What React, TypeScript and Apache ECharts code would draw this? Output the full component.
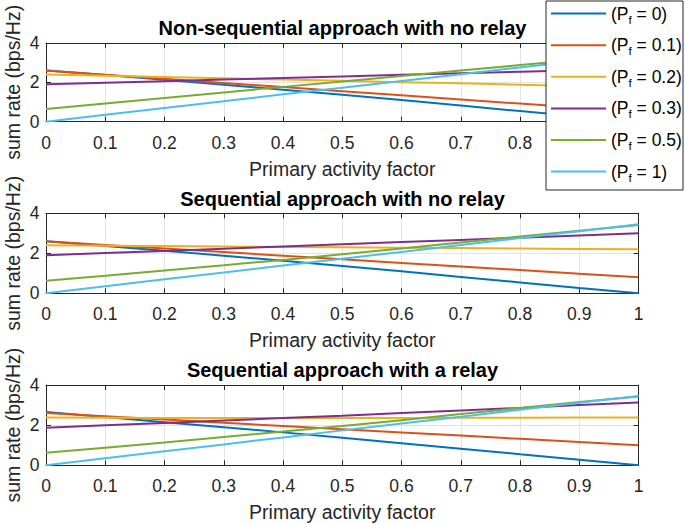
import React, { useEffect, useRef } from "react";
import * as echarts from "echarts";

const xValues = [0, 0.1, 0.2, 0.3, 0.4, 0.5, 0.6, 0.7, 0.8, 0.9, 1];
const seriesNames = ["(Pf = 0)", "(Pf = 0.1)", "(Pf = 0.2)", "(Pf = 0.3)", "(Pf = 0.5)", "(Pf = 1)"];
const panelTitles = [
  "Non-sequential approach with no relay",
  "Sequential approach with no relay",
  "Sequential approach with a relay",
];
const xAxisTitle = "Primary activity factor";
const yAxisTitle = "sum rate (bps/Hz)";

// Panel 1: non-sequential, no relay
const nsPf0 = [2.6, 2.37, 2.13, 1.88, 1.63, 1.37, 1.1, 0.82, 0.54, 0.26, 0.0];
const nsPf01 = [2.6, 2.39, 2.18, 1.97, 1.76, 1.55, 1.34, 1.13, 0.92, 0.71, 0.5];
const nsPf02 = [2.4, 2.34, 2.27, 2.21, 2.14, 2.08, 2.01, 1.95, 1.88, 1.82, 1.75];
const nsPf03 = [1.9, 1.98, 2.06, 2.14, 2.22, 2.3, 2.38, 2.46, 2.54, 2.62, 2.7];
const nsPf05 = [0.65, 0.93, 1.21, 1.49, 1.77, 2.04, 2.32, 2.6, 2.88, 3.15, 3.43];
const nsPf1 = [0, 0.35, 0.7, 1.04, 1.39, 1.73, 2.07, 2.41, 2.76, 3.1, 3.45];

// Panel 2: sequential, no relay
const sqPf0 = [2.6, 2.37, 2.13, 1.88, 1.63, 1.37, 1.1, 0.82, 0.54, 0.26, 0.0];
const sqPf01 = [2.6, 2.42, 2.24, 2.06, 1.88, 1.7, 1.52, 1.34, 1.16, 0.98, 0.8];
const sqPf02 = [2.4, 2.38, 2.36, 2.34, 2.32, 2.3, 2.28, 2.26, 2.24, 2.22, 2.2];
const sqPf03 = [1.9, 2.01, 2.12, 2.23, 2.34, 2.45, 2.56, 2.67, 2.78, 2.89, 3.0];
const sqPf05 = [0.63, 0.88, 1.14, 1.4, 1.67, 1.95, 2.24, 2.54, 2.84, 3.13, 3.42];
const sqPf1 = [0, 0.35, 0.7, 1.04, 1.39, 1.73, 2.07, 2.41, 2.76, 3.1, 3.45];

// Panel 3: sequential, with a relay
const rlPf0 = [2.65, 2.4, 2.15, 1.9, 1.64, 1.37, 1.1, 0.83, 0.55, 0.28, 0.0];
const rlPf01 = [2.6, 2.44, 2.28, 2.12, 1.96, 1.8, 1.64, 1.48, 1.32, 1.16, 1.0];
const rlPf02 = [2.38, 2.37, 2.36, 2.36, 2.36, 2.36, 2.36, 2.37, 2.37, 2.38, 2.38];
const rlPf03 = [1.87, 1.99, 2.11, 2.23, 2.35, 2.47, 2.6, 2.73, 2.86, 3.0, 3.13];
const rlPf05 = [0.62, 0.88, 1.14, 1.41, 1.68, 1.96, 2.25, 2.55, 2.86, 3.15, 3.43];
const rlPf1 = [0, 0.35, 0.7, 1.04, 1.39, 1.74, 2.08, 2.42, 2.77, 3.11, 3.45];

const panelData = [
  [nsPf0, nsPf01, nsPf02, nsPf03, nsPf05, nsPf1],
  [sqPf0, sqPf01, sqPf02, sqPf03, sqPf05, sqPf1],
  [rlPf0, rlPf01, rlPf02, rlPf03, rlPf05, rlPf1],
];

const colors = ["#0072BD", "#D95319", "#EDB120", "#7E2F8E", "#77AC30", "#4DBEEE"];
const FONT = "'Liberation Sans', Arial, Helvetica, sans-serif";
const AX = "#262626";
const GRIDC = "#e3e3e3";

const gridTops = [43, 213.3, 385];
const gridHeights = [78.7, 80, 80.3];

export default function App() {
  const ref = useRef<HTMLDivElement>(null);
  useEffect(() => {
    if (!ref.current) return;
    const chart = echarts.init(ref.current, undefined, { renderer: "svg" });

    const grids: any[] = [];
    const xAxes: any[] = [];
    const yAxes: any[] = [];
    const series: any[] = [];
    const titles: any[] = [];

    gridTops.forEach((top, p) => {
      grids.push({
        left: 46,
        width: 592.5,
        top,
        height: gridHeights[p],
        containLabel: false,
        outerBoundsMode: "none",
      });
      titles.push({
        text: panelTitles[p],
        left: "center",
        top: top - 24.8,
        padding: 0,
        textStyle: { fontFamily: FONT, fontSize: 20, fontWeight: "bold", color: "#000" },
      });
      const hideBehindLegend = p === 0;
      // bottom x
      xAxes.push({
        type: "value",
        gridIndex: p,
        position: "bottom",
        min: 0,
        max: 1,
        interval: 0.1,
        name: xAxisTitle,
        nameLocation: "middle",
        nameGap: 37,
        nameMoveOverlap: false,
        nameTextStyle: { fontFamily: FONT, fontSize: 19.5, color: AX },
        axisLine: { show: true, onZero: false, lineStyle: { color: AX, width: 1 } },
        axisTick: { show: true, inside: true, length: 5, lineStyle: { color: AX } },
        axisLabel: {
          show: true,
          margin: 12,
          fontFamily: FONT,
          fontSize: 17.5,
          color: AX,
          formatter: (v: number) => {
            if (hideBehindLegend && v > 0.85) return "";
            return v === 0 ? "0" : v === 1 ? "1" : v.toFixed(1);
          },
        },
        splitLine: { show: true, lineStyle: { color: GRIDC, width: 1 } },
      });
      // top x
      xAxes.push({
        type: "value",
        gridIndex: p,
        position: "top",
        min: 0,
        max: 1,
        interval: 0.1,
        axisLine: { show: true, onZero: false, lineStyle: { color: AX, width: 1 } },
        axisTick: { show: true, inside: true, length: 5, lineStyle: { color: AX } },
        axisLabel: { show: false },
        splitLine: { show: false },
      });
      // left y
      yAxes.push({
        type: "value",
        gridIndex: p,
        position: "left",
        min: 0,
        max: 4,
        interval: 2,
        name: yAxisTitle,
        nameLocation: "middle",
        nameGap: 23,
        nameMoveOverlap: false,
        nameTextStyle: { fontFamily: FONT, fontSize: 19.5, color: AX },
        axisLine: { show: true, onZero: false, lineStyle: { color: AX, width: 1 } },
        axisTick: { show: true, inside: true, length: 5, lineStyle: { color: AX } },
        axisLabel: { show: true, margin: 6.5, fontFamily: FONT, fontSize: 17.5, color: AX },
        splitLine: { show: true, lineStyle: { color: GRIDC, width: 1 } },
      });
      // right y
      yAxes.push({
        type: "value",
        gridIndex: p,
        position: "right",
        min: 0,
        max: 4,
        interval: 2,
        axisLine: { show: true, onZero: false, lineStyle: { color: AX, width: 1 } },
        axisTick: { show: true, inside: true, length: 5, lineStyle: { color: AX } },
        axisLabel: { show: false },
        splitLine: { show: false },
      });

      panelData[p].forEach((arr, i) => {
        series.push({
          type: "line",
          name: seriesNames[i],
          xAxisIndex: p * 2,
          yAxisIndex: p * 2,
          data: arr.map((y, k) => [xValues[k], y]),
          symbol: "none",
          showSymbol: false,
          smooth: false,
          lineStyle: { color: colors[i], width: 2 },
          itemStyle: { color: colors[i] },
          z: 2,
        });
      });
    });

    const option: any = {
      animation: false,
      backgroundColor: "#fff",
      title: titles,
      grid: grids,
      xAxis: xAxes,
      yAxis: yAxes,
      series,
      graphic: [
        {
          type: "rect",
          z: 3,
          shape: { x: 546, y: 1, width: 137, height: 189 },
          style: { fill: "#fff", stroke: AX, lineWidth: 1 },
        },
      ],
      legend: {
        show: true,
        orient: "vertical",
        left: 551,
        top: 4.6,
        padding: 0,
        icon: "rect",
        itemWidth: 55,
        itemHeight: 2,
        itemGap: 10.6,
        z: 5,
        data: seriesNames,
        selectedMode: false,
        formatter: (name: string) => {
          const m = name.match(/=\s*(.*)\)/);
          const v = m ? m[1] : "";
          return `{a|(P}{s|f}{a| = ${v})}`;
        },
        textStyle: {
          fontFamily: FONT,
          fontSize: 17.5,
          color: "#000",
          rich: {
            a: { fontFamily: FONT, fontSize: 17.5, lineHeight: 24, color: "#000" },
            s: { fontFamily: FONT, fontSize: 11.5, lineHeight: 8, verticalAlign: "bottom", color: "#000" },
          },
        },
      },
    };
    chart.setOption(option);
    return () => chart.dispose();
  }, []);
  return (
    <div
      ref={ref}
      style={{ position: "absolute", left: 0, top: 0, width: 685, height: 524, background: "#fff" }}
    />
  );
}
